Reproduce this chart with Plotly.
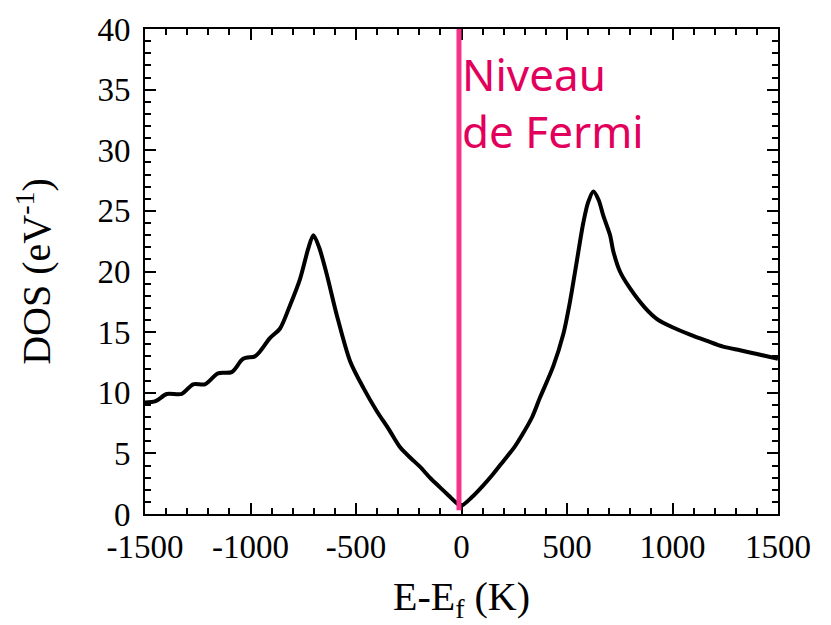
import plotly.graph_objects as go

energy = [-1500, -1450, -1397, -1326, -1272, -1216, -1154, -1089, -1035, -979, -955, -908,
          -860, -813, -765, -726, -702, -675, -639, -591, -528,
          -465, -402, -345, -291, -240, -197, -150, -102, -60, -23, 0, 50, 100, 150, 200,
          250, 290, 335, 372, 435, 482, 514, 546, 577, 600, 625, 650, 672,
          704, 719, 751, 799, 870, 925, 1000, 1083, 1160, 1240, 1320, 1400, 1500]
dos = [9.2, 9.3, 9.9, 9.9, 10.7, 10.7, 11.6, 11.7, 12.8, 13.0, 13.4, 14.5,
       15.3, 17.2, 19.4, 21.9, 23.0, 22.0, 19.8, 16.4, 12.6,
       10.4, 8.5, 7.0, 5.5, 4.6, 3.9, 3.0, 2.2, 1.5, 0.9, 0.7, 1.4, 2.3, 3.3, 4.4,
       5.5, 6.6, 8.0, 9.6, 12.2, 14.8, 17.5, 20.8, 24.0, 25.7, 26.6, 25.9, 24.6,
       23.0, 21.7, 20.0, 18.6, 17.0, 16.1, 15.4, 14.8, 14.3, 13.8, 13.5, 13.2, 12.8]

x_ticks = [-1500, -1000, -500, 0, 500, 1000, 1500]
x_ticklabels = ["-1500", "-1000", "-500", "0", "500", "1000", "1500"]
y_ticks = [0, 5, 10, 15, 20, 25, 30, 35, 40]
y_ticklabels = ["0", "5", "10", "15", "20", "25", "30", "35", "40"]

fermi_x = -12
label = "Niveau<br>de Fermi"

fig = go.Figure()
fig.add_trace(go.Scatter(x=energy, y=dos, mode="lines",
                         line=dict(color="black", width=4, shape="spline", smoothing=0.8),
                         showlegend=False, hoverinfo="skip"))

fig.add_shape(type="line", xref="x", yref="y", x0=fermi_x, x1=fermi_x, y0=0.3, y1=40.3,
              line=dict(color="#f5338a", width=5))
fig.add_annotation(x=fermi_x, y=33.9, xref="x", yref="y", xanchor="left", yanchor="middle",
                   xshift=1, text=label, showarrow=False, align="left",
                   font=dict(family="Noto Sans", size=44, color="#e2005c"))

axis_common = dict(showline=True, linecolor="black", linewidth=2, mirror="allticks",
                   ticks="inside", ticklen=11, tickwidth=2, tickcolor="black",
                   showgrid=False, zeroline=False,
                   tickfont=dict(family="Liberation Serif", size=33, color="black"))

fig.update_xaxes(range=[-1500, 1500], tickmode="array", tickvals=x_ticks, ticktext=x_ticklabels,
                 ticklabelstandoff=2,
                 minor=dict(ticks="inside", ticklen=6, tickwidth=1.5, tickcolor="black",
                            tickmode="linear", tick0=-1500, dtick=100, showgrid=False),
                 title=dict(text="E-E<sub>f</sub> (K)", font=dict(family="Liberation Serif", size=40, color="black"), standoff=18),
                 **axis_common)
fig.update_yaxes(range=[0, 40], tickmode="array", tickvals=y_ticks, ticktext=y_ticklabels,
                 ticklabelstandoff=6,
                 minor=dict(ticks="inside", ticklen=6, tickwidth=1.5, tickcolor="black",
                            tickmode="linear", tick0=0, dtick=1, showgrid=False),
                 title=dict(text="DOS (eV<sup>-1</sup>)", font=dict(family="Liberation Serif", size=40, color="black"), standoff=34),
                 **axis_common)

fig.update_layout(width=831, height=625, margin=dict(l=145, r=53, t=25, b=111),
                  plot_bgcolor="white", paper_bgcolor="white")

fig.write_html("out.html")
